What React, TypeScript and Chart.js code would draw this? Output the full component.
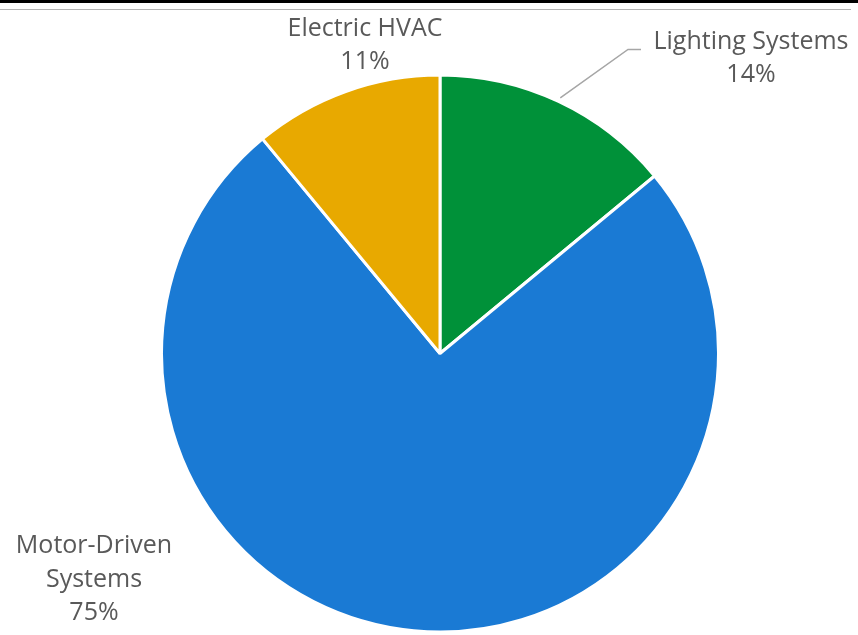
import React, { useEffect, useRef } from "react";
import { Chart, registerables } from "chart.js";

Chart.register(...registerables);

const categories: string[] = ["Lighting Systems", "Motor-Driven Systems", "Electric HVAC"];
const labelLines: string[][] = [["Lighting Systems"], ["Motor-Driven", "Systems"], ["Electric HVAC"]];
const values: number[] = [14, 75, 11];
const colors: string[] = ["#009139", "#1A7AD4", "#E8A900"];

// label placement (offset of label block centre from pie centre, in px)
const labelOffsets: [number, number][] = [[311, -295], [-346, 226], [-75, -308]];
// leader line elbow for the labels that have one (null = none)
const leaderElbows: ([number, number] | null)[] = [[188, -304], null, null];

const TEXT_COLOR = "#595959";
const FONT = "25px 'Open Sans', 'Noto Sans', sans-serif";
const LINE_H = 33.5;

const labelPlugin = {
  id: "pieLabels",
  afterDatasetsDraw(chart: any) {
    const ctx = chart.ctx;
    const meta = chart.getDatasetMeta(0);
    const total = values.reduce((a, b) => a + b, 0);
    ctx.save();
    meta.data.forEach((arc: any, i: number) => {
      const { x, y, outerRadius, startAngle, endAngle } = arc.getProps(
        ["x", "y", "outerRadius", "startAngle", "endAngle"],
        true
      );
      const lines = [...labelLines[i], Math.round((values[i] / total) * 100) + "%"];
      const cx = x + labelOffsets[i][0];
      const cy = y + labelOffsets[i][1];
      const elbow = leaderElbows[i];
      if (elbow) {
        const mid = (startAngle + endAngle) / 2;
        const sx = x + Math.cos(mid) * (outerRadius + 4);
        const sy = y + Math.sin(mid) * (outerRadius + 4);
        ctx.strokeStyle = "#A6A6A6";
        ctx.lineWidth = 1.5;
        ctx.beginPath();
        ctx.moveTo(sx, sy);
        ctx.lineTo(x + elbow[0], y + elbow[1]);
        ctx.lineTo(x + elbow[0] + 13, y + elbow[1]);
        ctx.stroke();
      }
      ctx.fillStyle = TEXT_COLOR;
      ctx.font = FONT;
      ctx.textAlign = "center";
      ctx.textBaseline = "middle";
      const top = cy - ((lines.length - 1) * LINE_H) / 2;
      lines.forEach((t, k) => ctx.fillText(t, cx, top + k * LINE_H));
    });
    ctx.restore();
  },
};

export default function App() {
  const ref = useRef<HTMLCanvasElement | null>(null);
  useEffect(() => {
    if (!ref.current) return;
    const chart = new Chart(ref.current, {
      type: "pie",
      data: {
        labels: categories,
        datasets: [
          {
            data: values,
            backgroundColor: colors,
            borderColor: "#FFFFFF",
            borderWidth: 3,
          },
        ],
      },
      options: {
        animation: false,
        responsive: false,
        maintainAspectRatio: false,
        layout: { padding: { top: 73, bottom: 1, left: 160, right: 138 } },
        plugins: {
          legend: { display: false },
          tooltip: { enabled: false },
        },
      },
      plugins: [labelPlugin],
    });
    return () => chart.destroy();
  }, []);
  return (
    <div style={{ position: "fixed", left: 0, top: 0, width: 858, height: 635, background: "#fff", overflow: "hidden" }}>
      <div style={{ position: "absolute", left: 0, top: 0, width: 858, height: 3, background: "#000" }} />
      <div style={{ position: "absolute", left: 0, top: 9, width: 851, height: 1, background: "#B4B4B4" }} />
      <canvas ref={ref} width={858} height={635} style={{ position: "absolute", left: 0, top: 0, width: 858, height: 635 }} />
    </div>
  );
}
